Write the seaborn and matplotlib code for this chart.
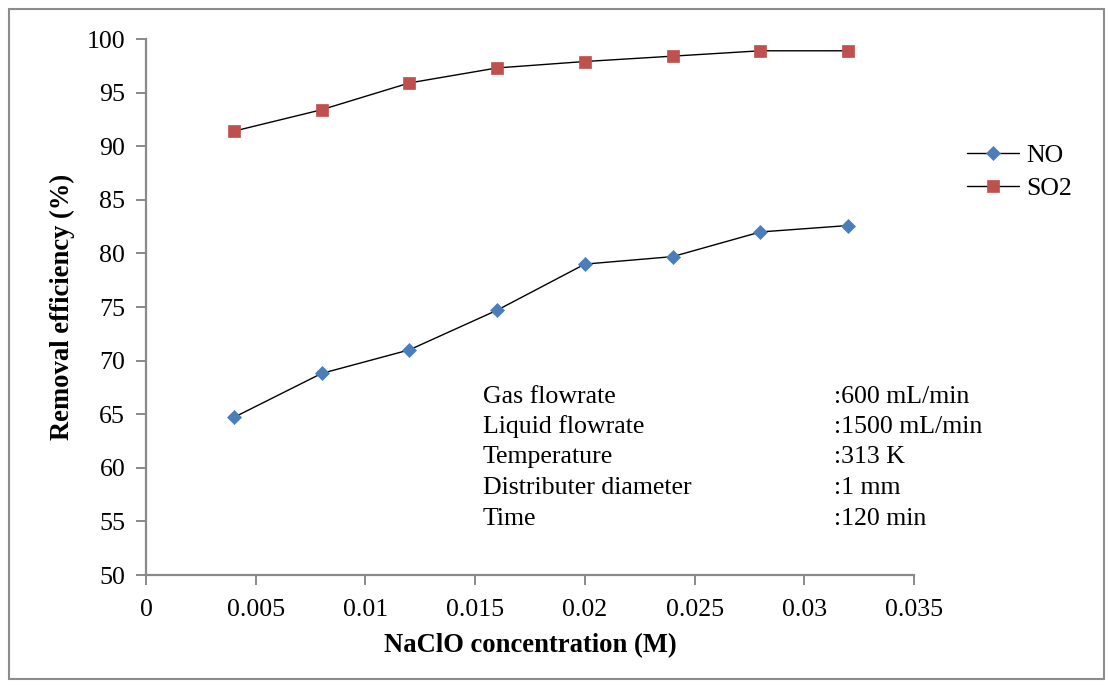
import matplotlib
matplotlib.use("Agg")
import matplotlib.pyplot as plt
from matplotlib.patches import Rectangle
import pandas as pd
import seaborn as sns

# NaClO concentration (M) and removal efficiencies (%)
concentration = [0.004, 0.008, 0.012, 0.016, 0.020, 0.024, 0.028, 0.032]
no_removal = [64.7, 68.8, 71.0, 74.7, 79.0, 79.7, 82.0, 82.6]
so2_removal = [91.4, 93.4, 95.9, 97.3, 97.9, 98.4, 98.9, 98.9]

x_ticks = [0, 0.005, 0.01, 0.015, 0.02, 0.025, 0.03, 0.035]
x_tick_labels = ["0", "0.005", "0.01", "0.015", "0.02", "0.025", "0.03", "0.035"]
y_ticks = [50, 55, 60, 65, 70, 75, 80, 85, 90, 95, 100]

condition_names = ["Gas flowrate", "Liquid flowrate", "Temperature",
                   "Distributer diameter", "Time"]
condition_values = [":600 mL/min", ":1500 mL/min", ":313 K", ":1 mm", ":120 min"]

sns.set_theme(style="white")
plt.rcParams["font.family"] = ["Liberation Serif", "DejaVu Serif"]
plt.rcParams["font.size"] = 18.6
plt.rcParams["text.color"] = "black"
plt.rcParams["axes.labelcolor"] = "black"

FS = 18.6
W, H = 1112, 687
fig = plt.figure(figsize=(W / 100, H / 100), dpi=100)
ax = fig.add_axes([146 / W, 1 - 575 / H, (914 - 146) / W, (575 - 39) / H])

df = pd.DataFrame({
    "conc": concentration * 2,
    "eff": no_removal + so2_removal,
    "gas": ["NO"] * len(concentration) + ["SO2"] * len(concentration),
})

style = {"NO": ("D", "#4A7EBB", 7.5), "SO2": ("s", "#C0504D", 8.5)}
for gas, sub in df.groupby("gas"):
    marker, color, ms = style[gas]
    sns.lineplot(data=sub, x="conc", y="eff", ax=ax, color="black", linewidth=1.0,
                 marker=marker, markersize=ms, markerfacecolor=color,
                 markeredgecolor=color, markeredgewidth=0.5, label=gas)

ax.set_xlim(0, 0.035)
ax.set_ylim(50, 100)
ax.set_xticks(x_ticks)
ax.set_xticklabels(x_tick_labels)
ax.set_yticks(y_ticks)
ax.set_yticklabels([str(v) for v in y_ticks])

spine_color = "#898989"
for side in ["top", "right"]:
    ax.spines[side].set_visible(False)
for side in ["left", "bottom"]:
    ax.spines[side].set_color(spine_color)
    ax.spines[side].set_linewidth(1.6)
ax.tick_params(axis="both", direction="out", length=7, width=1.4, color=spine_color,
               labelsize=FS, labelcolor="black", pad=8)
ax.tick_params(axis="x", pad=10)
ax.tick_params(left=True, bottom=True)

ax.set_xlabel("NaClO concentration (M)", fontsize=19.2, fontweight="bold", labelpad=9)
ax.set_ylabel("Removal efficiency (%)", fontsize=19.2, fontweight="bold", labelpad=8)

leg = ax.legend(loc="center left", bbox_to_anchor=(944 / W, 1 - 172 / H),
                bbox_transform=fig.transFigure, frameon=False, fontsize=FS,
                handlelength=2.0, handletextpad=0.3, labelspacing=0.4)

# Operating conditions block
baselines = [403, 433, 463, 494, 525]
for name, value, yb in zip(condition_names, condition_values, baselines):
    fig.text(483 / W, 1 - yb / H, name, fontsize=FS, va="baseline", ha="left")
    fig.text(834 / W, 1 - yb / H, value, fontsize=FS, va="baseline", ha="left")

# Chart-area border
fig.patches.append(Rectangle((8.5 / W, 1 - 679 / H), (1104 - 8.5) / W, (679 - 9) / H,
                             transform=fig.transFigure, fill=False,
                             edgecolor="#8c8c8c", linewidth=1.5))

fig.savefig("out.png", dpi=100)
